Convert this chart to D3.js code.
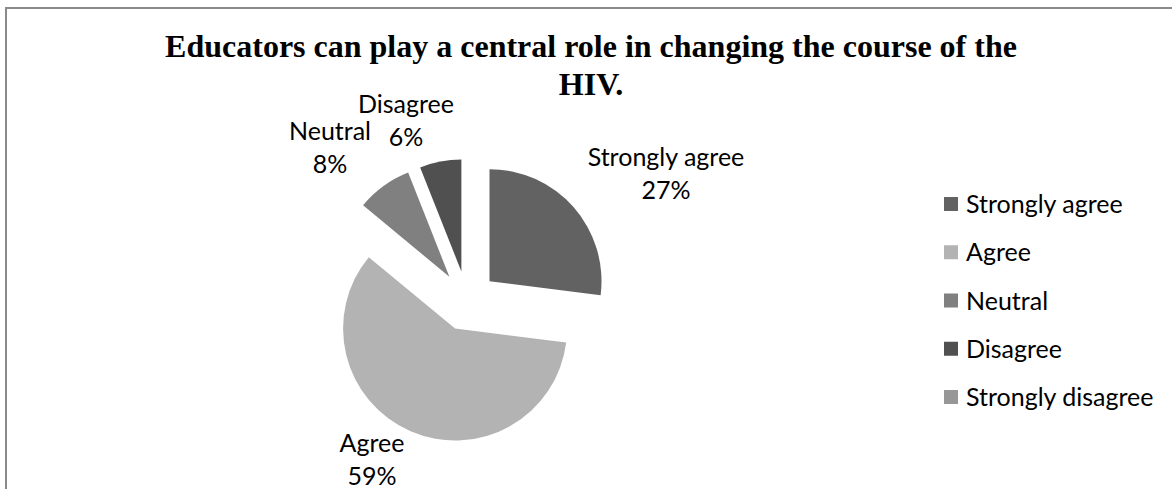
<!DOCTYPE html>
<html>
<head>
<meta charset="utf-8">
<script src="https://cdn.jsdelivr.net/npm/d3@7"></script>
<style>
  html, body { margin: 0; padding: 0; background: #fff; }
  svg { display: block; }
</style>
</head>
<body>
<svg id="chart" width="1172" height="489"></svg>
<script>
// Survey responses
const categories = ["Strongly agree", "Agree", "Neutral", "Disagree", "Strongly disagree"];
const percentages = [27, 59, 8, 6, 0];
const titleLines = ["Educators can play a central role in changing the course of the", "HIV."];
const sliceColors = ["#626262", "#b3b3b3", "#808080", "#505050", "#979797"];

const W = 1172, H = 489;
const svg = d3.select("#chart");

// chart frame (runs off the right and bottom edges)
svg.append("rect")
  .attr("x", 6).attr("y", 8)
  .attr("width", W + 20).attr("height", H + 20)
  .attr("fill", "#fff")
  .attr("stroke", "#8a8a8a").attr("stroke-width", 2);

// title
const title = svg.append("text")
  .attr("text-anchor", "middle")
  .attr("font-family", "'Liberation Serif', 'Times New Roman', serif")
  .attr("font-weight", "bold")
  .attr("font-size", 32)
  .attr("fill", "#000");
titleLines.forEach((line, i) => {
  title.append("tspan").attr("x", 591).attr("y", 57 + i * 38).text(line);
});

// pie
const cx = 467, cy = 301, radius = 112, explode = 30;
const color = d3.scaleOrdinal().domain(categories).range(sliceColors);
const pie = d3.pie().sort(null).value(d => d.value).startAngle(0).endAngle(2 * Math.PI);
const arc = d3.arc().innerRadius(0).outerRadius(radius);
const data = categories.map((c, i) => ({ name: c, value: percentages[i] }));
const arcs = pie(data);

const g = svg.append("g").attr("transform", `translate(${cx},${cy})`);
g.selectAll("path")
  .data(arcs.filter(a => a.value > 0))
  .join("path")
  .attr("transform", a => {
    const mid = (a.startAngle + a.endAngle) / 2;
    return `translate(${explode * Math.sin(mid)},${-explode * Math.cos(mid)})`;
  })
  .attr("d", arc)
  .attr("fill", a => color(a.data.name));

// data labels: category name over percentage
const labelFont = "Lato, 'Open Sans', sans-serif";
const labelAnchor = {
  "Strongly agree": [666, 166],
  "Agree": [372, 452],
  "Neutral": [330, 140],
  "Disagree": [406, 113]
};
arcs.filter(a => a.value > 0).forEach(a => {
  const [lx, ly] = labelAnchor[a.data.name];
  const t = svg.append("text")
    .attr("text-anchor", "middle")
    .attr("font-family", labelFont)
    .attr("font-size", 25)
    .attr("fill", "#000");
  t.append("tspan").attr("x", lx).attr("y", ly).text(a.data.name);
  t.append("tspan").attr("x", lx).attr("y", ly + 33).text(d3.format(".0%")(a.value / 100));
});

// legend
const legendY = d3.scalePoint().domain(categories).range([204, 397]);
const legend = svg.append("g");
categories.forEach(c => {
  const y = legendY(c);
  legend.append("rect")
    .attr("x", 944).attr("y", y - 7)
    .attr("width", 14).attr("height", 14)
    .attr("fill", color(c));
  legend.append("text")
    .attr("x", 966).attr("y", y + 9)
    .attr("font-family", labelFont)
    .attr("font-size", 25)
    .attr("fill", "#000")
    .text(c);
});
</script>
</body>
</html>
